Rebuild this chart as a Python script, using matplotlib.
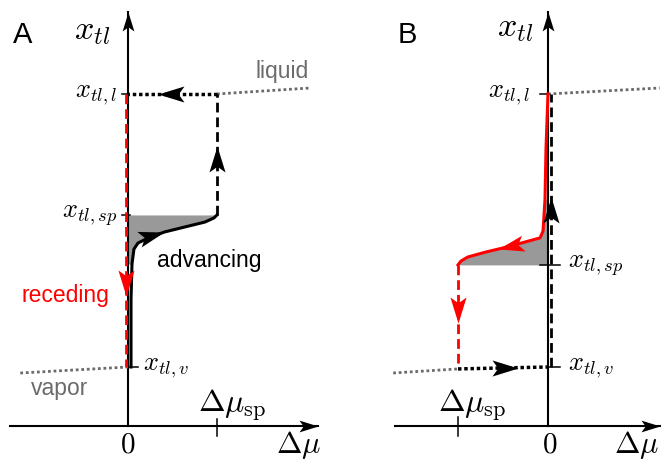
import matplotlib
matplotlib.use('Agg')
import matplotlib.pyplot as plt
from matplotlib.path import Path
from matplotlib.markers import MarkerStyle
from matplotlib.transforms import Affine2D

plt.rcParams['mathtext.fontset'] = 'cm'
plt.rcParams['font.family'] = ['Liberation Sans', 'DejaVu Sans']

# levels in units of (x_tl,l - x_tl,v) and |dmu_sp|
x_l = 1.0
x_v = 0.0
x_sp_A = 0.557
x_sp_B = 0.374
mu_sp_A = 1.0
mu_sp_B = -1.0

# panel A: advancing branch (dmu, x_tl), bottom to top
adv_mu = [0.034, 0.034, 0.045, 0.067, 0.112, 0.247, 0.416, 0.640, 0.865, 0.966, 1.0]
adv_x = [0.0, 0.249, 0.377, 0.432, 0.454, 0.476, 0.495, 0.513, 0.531, 0.546, 0.557]

# panel B: receding branch (dmu, x_tl), top to bottom
rec_mu = [0.0, -0.022, -0.033, -0.055, -0.088, -0.253, -0.451, -0.692, -0.890, -0.967, -1.0]
rec_x = [1.0, 0.799, 0.615, 0.498, 0.473, 0.458, 0.440, 0.421, 0.403, 0.388, 0.374]

# metastable continuations (gray dotted)
liq_A = ([1.0, 2.045], [1.0, 1.022])
vap_A = ([-1.21, 0.0], [-0.022, 0.0])
liq_B = ([0.0, 1.24], [1.0, 1.022])
vap_B = ([-1.72, -1.0], [-0.022, -0.007])

STEALTH = Path([(0, 0), (-1, 0.31), (-0.78, 0), (-1, -0.31), (0, 0)],
               [Path.MOVETO, Path.LINETO, Path.LINETO, Path.LINETO, Path.CLOSEPOLY])

RED = '#ff0000'
GRAY = '0.42'
FILL = '0.6'


def stealth(ax, x, y, angle, color='k', length=26):
    m = MarkerStyle(STEALTH, transform=Affine2D().rotate_deg(angle))
    ax.plot([x], [y], marker=m, ms=1.44 * length, color=color, mew=0,
            ls='none', zorder=6)


def draw_axes(ax, x0, x1):
    y_ax = -0.216
    ax.plot([x0, x1], [y_ax, y_ax], color='k', lw=1.5, zorder=2)
    ax.plot([0, 0], [y_ax, 1.30], color='k', lw=1.5, zorder=2)
    stealth(ax, x1, y_ax, 0, length=19)
    stealth(ax, 0, 1.30, 90, length=19)


def tick(ax, xs, ys):
    ax.plot(xs, ys, color='k', lw=1.1, zorder=2)


fig = plt.figure(figsize=(6.62, 4.60), dpi=100)
axA = fig.add_axes([0, 0, 0.5, 1])
axB = fig.add_axes([0.5, 0, 0.5, 1])
axA.set_xlim(-1.438, 2.281)
axB.set_xlim(-2.411, 1.267)
for ax in (axA, axB):
    ax.set_ylim(-0.337, 1.348)
    ax.axis('off')

# ---------------- panel A ----------------
ax = axA
draw_axes(ax, -1.326, 2.14)
tick(ax, [-0.067, 0], [x_l, x_l])
tick(ax, [-0.067, 0.022], [x_sp_A, x_sp_A])
tick(ax, [0, 0.112], [x_v, x_v])
tick(ax, [mu_sp_A, mu_sp_A], [-0.19, -0.253])

ax.plot(*liq_A, color=GRAY, lw=2, dashes=(1, 1), zorder=3)
ax.plot(*vap_A, color=GRAY, lw=2, dashes=(1, 1), zorder=3)
ax.fill_betweenx(adv_x[2:], 0, adv_mu[2:], color=FILL, lw=0, zorder=1)
ax.plot(adv_mu, adv_x, color='k', lw=2.2, zorder=4)
ax.plot([mu_sp_A, mu_sp_A], [x_sp_A, x_l], color='k', lw=2, dashes=(3.5, 1.8), zorder=4)
ax.plot([mu_sp_A, 0], [x_l, x_l], color='k', lw=2.5, dashes=(1, 0.8), zorder=4)
ax.plot([-0.02, -0.02], [x_l, x_v], color=RED, lw=2, dashes=(3.5, 1.8), zorder=5)

stealth(ax, 0.40, 0.495, 16)
stealth(ax, mu_sp_A, 0.81, 90)
stealth(ax, 0.337, x_l, 180)
stealth(ax, -0.02, 0.26, -90, color=RED)

ax.text(-1.18, 1.19, 'A', fontsize=21, ha='center', va='baseline')
ax.text(-0.2, 1.234, r'$x_{tl}$', fontsize=24.5, ha='right', va='center')
ax.text(-0.124, x_l, r'$x_{tl,l}$', fontsize=19, ha='right', va='center')
ax.text(-0.124, x_sp_A, r'$x_{tl,sp}$', fontsize=19, ha='right', va='center')
ax.text(0.169, x_v, r'$x_{tl,v}$', fontsize=19, ha='left', va='center')
ax.text(1.73, 1.062, 'liquid', fontsize=16.5, color=GRAY, ha='center', va='baseline')
ax.text(-0.764, -0.099, 'vapor', fontsize=16.5, color=GRAY, ha='center', va='baseline')
ax.text(0.91, 0.37, 'advancing', fontsize=16.5, color='k', ha='center', va='baseline')
ax.text(-0.708, 0.242, 'receding', fontsize=16.5, color=RED, ha='center', va='baseline')
ax.text(1.17, -0.136, r'$\Delta\mu_{\rm sp}$', fontsize=23, ha='center', va='center')
ax.text(0, -0.282, r'$0$', fontsize=21, ha='center', va='center')
ax.text(1.92, -0.281, r'$\Delta\mu$', fontsize=22, ha='center', va='center')

# ---------------- panel B ----------------
ax = axB
draw_axes(ax, -1.7, 1.244)
tick(ax, [-0.089, 0.022], [x_l, x_l])
tick(ax, [-0.089, 0.133], [x_sp_B, x_sp_B])
tick(ax, [0, 0.133], [x_v, x_v])
tick(ax, [mu_sp_B, mu_sp_B], [-0.183, -0.253])

ax.plot(*liq_B, color=GRAY, lw=2, dashes=(1, 1), zorder=3)
ax.plot(*vap_B, color=GRAY, lw=2, dashes=(1, 1), zorder=3)
ax.fill_betweenx(rec_x[2:], rec_mu[2:], 0, color=FILL, lw=0, zorder=1)
ax.plot([0.033, 0.033], [x_v, x_l], color='k', lw=2, dashes=(3.5, 1.8), zorder=4)
ax.plot(rec_mu, rec_x, color=RED, lw=2.2, zorder=5)
ax.plot([mu_sp_B, mu_sp_B], [x_sp_B, x_v], color=RED, lw=2, dashes=(3.5, 1.8), zorder=5)
ax.plot([mu_sp_B, 0], [vap_B[1][1], x_v], color='k', lw=2.5, dashes=(1, 0.8), zorder=4)

stealth(ax, 0.033, 0.623, 90)
stealth(ax, -0.556, 0.432, 193, color=RED)
stealth(ax, mu_sp_B, 0.16, -90, color=RED)
stealth(ax, -0.333, -0.003, 0)

ax.text(-1.567, 1.19, 'B', fontsize=21, ha='center', va='baseline')
ax.text(-0.167, 1.245, r'$x_{tl}$', fontsize=24.5, ha='right', va='center')
ax.text(-0.2, x_l, r'$x_{tl,l}$', fontsize=19, ha='right', va='center')
ax.text(0.222, x_sp_B, r'$x_{tl,sp}$', fontsize=19, ha='left', va='center')
ax.text(0.222, x_v, r'$x_{tl,v}$', fontsize=19, ha='left', va='center')
ax.text(-0.844, -0.136, r'$\Delta\mu_{\rm sp}$', fontsize=23, ha='center', va='center')
ax.text(0.022, -0.282, r'$0$', fontsize=21, ha='center', va='center')
ax.text(1.24, -0.281, r'$\Delta\mu$', fontsize=22, ha='right', va='center')

fig.savefig('out.png', dpi=100)
